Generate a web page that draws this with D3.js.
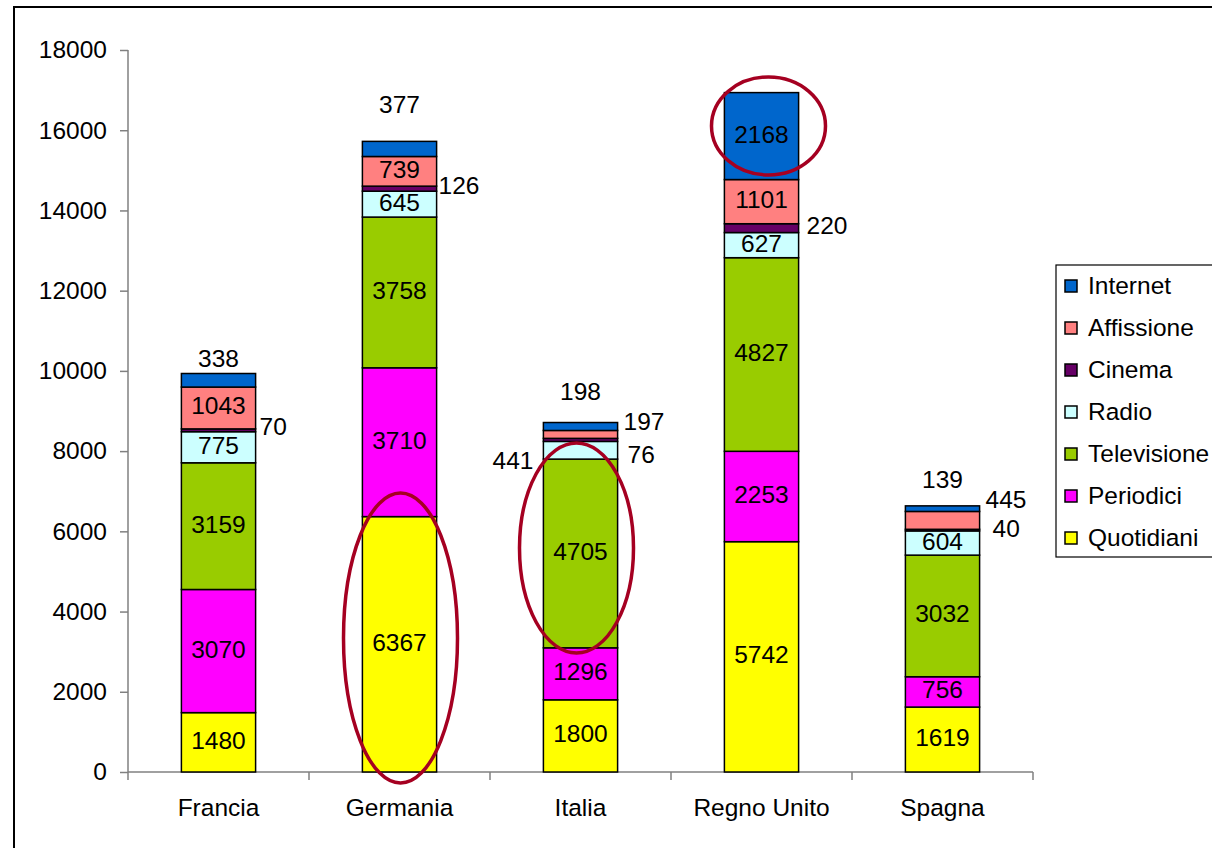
<!DOCTYPE html>
<html>
<head>
<meta charset="utf-8">
<script src="https://cdn.jsdelivr.net/npm/d3@7"></script>
<style>
  body { margin: 0; background: #fff; }
  svg text { font-family: "Liberation Sans", Arial, sans-serif; fill: #000; }
</style>
</head>
<body>
<div id="chart"></div>
<script>
// categories and series (stack order bottom -> top)
var countries = ['Francia', 'Germania', 'Italia', 'Regno Unito', 'Spagna'];
var seriesNames = ['Quotidiani', 'Periodici', 'Televisione', 'Radio', 'Cinema', 'Affissione', 'Internet'];

var quotidiani  = [1480, 6367, 1800, 5742, 1619];
var periodici   = [3070, 3710, 1296, 2253, 756];
var televisione = [3159, 3758, 4705, 4827, 3032];
var radio       = [775, 645, 441, 627, 604];
var cinema      = [70, 126, 76, 220, 40];
var affissione  = [1043, 739, 197, 1101, 445];
var internet    = [338, 377, 198, 2168, 139];

var yTicks = [0, 2000, 4000, 6000, 8000, 10000, 12000, 14000, 16000, 18000];

var colors = {
    Quotidiani: '#ffff00',
    Periodici: '#ff00ff',
    Televisione: '#99cc00',
    Radio: '#ccffff',
    Cinema: '#660066',
    Affissione: '#ff8080',
    Internet: '#0066cc'
};

// labels that don't fit inside: [country, series, anchor, dx, dy]
var outside = [
    ['Francia', 'Internet', 'middle', 0, -20],
    ['Francia', 'Cinema', 'start', 4, -2],
    ['Germania', 'Internet', 'middle', 0, -42],
    ['Germania', 'Cinema', 'start', 2, -1],
    ['Italia', 'Internet', 'middle', 0, -33],
    ['Italia', 'Affissione', 'start', 6, -11],
    ['Italia', 'Cinema', 'start', 10, 17],
    ['Italia', 'Radio', 'end', 10, 12],
    ['Regno Unito', 'Cinema', 'start', 8, -1],
    ['Spagna', 'Internet', 'middle', 0, -27],
    ['Spagna', 'Affissione', 'start', 6, -19],
    ['Spagna', 'Cinema', 'start', 13, 0]
];

// highlighted segments: [country, cy value, ry value, dx]
var rings = [
    ['Germania', 3340, 3615, 1],
    ['Italia', 5585, 2618, -4],
    ['Regno Unito', 16106, 1222, 7]
];

var table = countries.map(function(c, i) {
    return {
        country: c,
        Quotidiani: quotidiani[i], Periodici: periodici[i], Televisione: televisione[i],
        Radio: radio[i], Cinema: cinema[i], Affissione: affissione[i], Internet: internet[i]
    };
});

var W = 1212, H = 848;
var margin = {left: 128, top: 50, right: 179, bottom: 76};
var textShift = -2; // small vertical nudge for all labels

var svg = d3.select('#chart').append('svg')
    .attr('width', W).attr('height', H);

// outer chart frame
svg.append('rect')
    .attr('x', 14).attr('y', 7)
    .attr('width', W + 20).attr('height', H + 20)
    .attr('fill', 'none').attr('stroke', '#000').attr('stroke-width', 2);

var x = d3.scaleBand().domain(countries).range([margin.left, W - margin.right]);
var y = d3.scaleLinear().domain([0, 18000]).range([H - margin.bottom, margin.top]);
var barW = x.bandwidth() * 0.41;
var fs = 24.5;

// y axis
var gy = svg.append('g').attr('transform', 'translate(' + margin.left + ',0)')
    .call(d3.axisLeft(y).tickValues(yTicks).tickSize(8).tickPadding(13).tickFormat(d3.format('d')));
gy.selectAll('path, line').attr('stroke', '#808080').attr('stroke-width', 1.5);
gy.select('path').attr('d', 'M0,' + y(18000) + 'V' + y(0));
gy.selectAll('text').attr('font-size', fs).attr('font-family', '"Liberation Sans", Arial, sans-serif').attr('fill', '#000');

// x axis
var gx = svg.append('g').attr('transform', 'translate(0,' + y(0) + ')');
gx.append('line').attr('x1', x.range()[0]).attr('x2', x.range()[1])
    .attr('stroke', '#808080').attr('stroke-width', 1.5);
gx.selectAll('line.tk').data(d3.range(countries.length + 1)).enter().append('line')
    .attr('class', 'tk')
    .attr('x1', function(i) { return x.range()[0] + i * x.step(); })
    .attr('x2', function(i) { return x.range()[0] + i * x.step(); })
    .attr('y1', 0).attr('y2', 8)
    .attr('stroke', '#808080').attr('stroke-width', 1.5);
gx.selectAll('text').data(countries).enter().append('text')
    .attr('x', function(d) { return x(d) + x.bandwidth() / 2; })
    .attr('y', 35)
    .attr('text-anchor', 'middle')
    .attr('dominant-baseline', 'central')
    .attr('font-size', fs)
    .text(function(d) { return d; });

// stacked bars
var stack = d3.stack().keys(seriesNames)(table);

var layers = svg.append('g').selectAll('g').data(stack).enter().append('g')
    .attr('fill', function(d) { return colors[d.key]; });

layers.selectAll('rect').data(function(d) { return d; }).enter().append('rect')
    .attr('x', function(d) { return x(d.data.country) + (x.bandwidth() - barW) / 2; })
    .attr('y', function(d) { return y(d[1]); })
    .attr('width', barW)
    .attr('height', function(d) { return y(d[0]) - y(d[1]); })
    .attr('stroke', '#000').attr('stroke-width', 1.5);

// value labels
var labels = svg.append('g');
stack.forEach(function(layer) {
    layer.forEach(function(d) {
        var v = d[1] - d[0];
        var cx = x(d.data.country) + x.bandwidth() / 2;
        var cy = (y(d[0]) + y(d[1])) / 2 + textShift;
        var o = outside.filter(function(r) { return r[0] === d.data.country && r[1] === layer.key; })[0];
        var t = labels.append('text')
            .attr('font-size', fs)
            .attr('dominant-baseline', 'central')
            .text(v);
        if (!o) {
            t.attr('x', cx).attr('y', cy).attr('text-anchor', 'middle');
        } else {
            var px = cx;
            if (o[2] === 'start') px = cx + barW / 2 + o[3];
            if (o[2] === 'end') px = cx - barW / 2 - o[3];
            t.attr('x', px).attr('y', cy + o[4]).attr('text-anchor', o[2]);
        }
    });
});

// red rings
svg.append('g').selectAll('ellipse').data(rings).enter().append('ellipse')
    .attr('cx', function(d) { return x(d[0]) + x.bandwidth() / 2 + d[3]; })
    .attr('cy', function(d) { return y(d[1]); })
    .attr('rx', 57)
    .attr('ry', function(d) { return y(0) - y(d[2]); })
    .attr('fill', 'none')
    .attr('stroke', '#a50021')
    .attr('stroke-width', 3.5);

// legend
var legend = svg.append('g').attr('transform', 'translate(1056,265)');
legend.append('rect')
    .attr('width', 170).attr('height', 292)
    .attr('fill', '#fff').attr('stroke', '#000').attr('stroke-width', 1.2);

var items = legend.selectAll('g.item').data(seriesNames.slice().reverse()).enter().append('g')
    .attr('class', 'item')
    .attr('transform', function(d, i) { return 'translate(0,' + (21 + i * 42) + ')'; });
items.append('rect')
    .attr('x', 9).attr('y', -6).attr('width', 12).attr('height', 12)
    .attr('fill', function(d) { return colors[d]; })
    .attr('stroke', '#000').attr('stroke-width', 1.5);
items.append('text')
    .attr('x', 32).attr('y', -1)
    .attr('dominant-baseline', 'central')
    .attr('font-size', fs)
    .text(function(d) { return d; });
</script>
</body>
</html>
